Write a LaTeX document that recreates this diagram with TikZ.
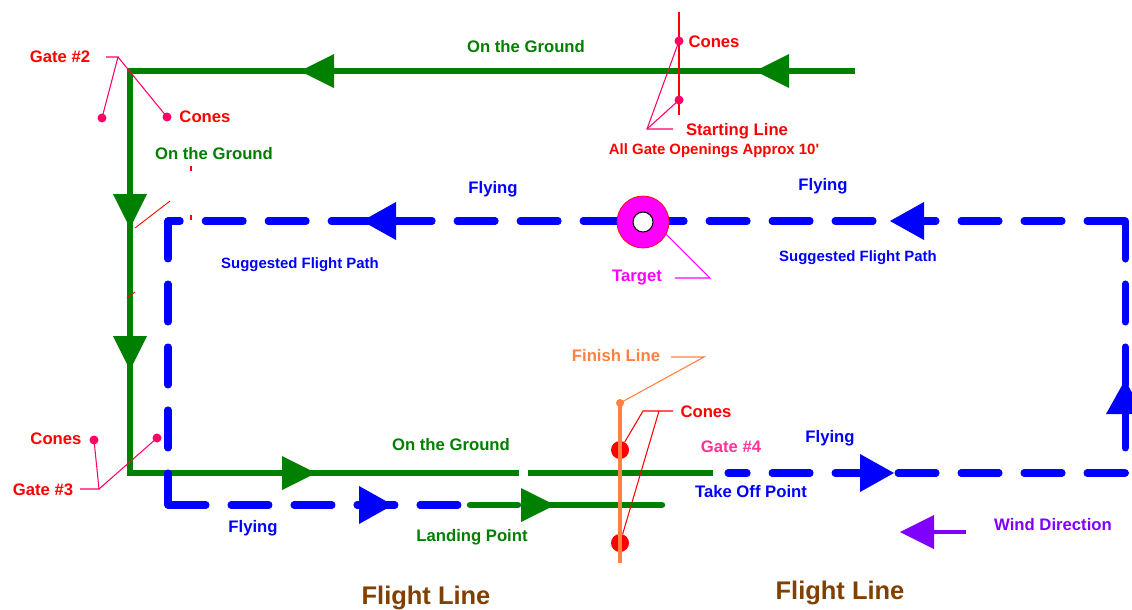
\documentclass[tikz,border=0pt]{standalone}
\usepackage{fontspec}
\setmainfont{Liberation Sans}
\definecolor{gr}{RGB}{0,128,0}
\definecolor{bl}{RGB}{0,0,255}
\definecolor{rd}{RGB}{255,0,0}
\definecolor{pk}{RGB}{255,0,102}
\definecolor{mg}{RGB}{255,0,255}
\definecolor{org}{RGB}{255,128,64}
\definecolor{gfour}{RGB}{255,51,153}
\definecolor{pur}{RGB}{128,0,255}
\definecolor{brn}{RGB}{128,64,0}
\begin{document}
\begin{tikzpicture}[x=0.02cm,y=-0.02cm,
  lab/.style={font=\bfseries\fontsize{9.5}{11}\selectfont, inner sep=0pt},
  small/.style={font=\bfseries\fontsize{8.5}{10}\selectfont, inner sep=0pt},
  big/.style={font=\bfseries\fontsize{14.5}{17}\selectfont, inner sep=0pt},
  ground/.style={gr, line width=3.7pt},
  fly/.style={bl, line width=4pt, line cap=round, dash pattern=on 0.76cm off 0.5cm},
  leader/.style={pk, line width=0.6pt},
  cone/.style={circle, fill=pk, inner sep=0pt, minimum size=0.18cm},
  bigcone/.style={circle, fill=rd, inner sep=0pt, minimum size=0.36cm},
  tri/.pic={\fill (0,0) -- (-34,17) -- (-34,-17) -- cycle;},
  btri/.pic={\fill (0,0) -- (-34,19) -- (-34,-19) -- cycle;},
]
\path[use as bounding box, fill=white] (0,0) rectangle (1132,609);

% ---------- ground path (green) ----------
\coordinate (gTR) at (855,71);
\coordinate (gTL) at (130,71);
\coordinate (gBL) at (130,473);
\coordinate (gGapL) at (519,473);
\coordinate (gGapR) at (528,473);
\coordinate (gBR) at (713,473);
\draw[ground] (gTR) -- (gTL) -- (gBL) -- (gGapL);
\draw[ground] (gGapR) -- (gBR);
\coordinate (lA) at (470,505);
\coordinate (lB) at (518,505);
\coordinate (lC) at (528,505);
\coordinate (lD) at (662,505);
\draw[ground, line cap=round] (lA) -- (lB);
\draw[ground, line cap=round] (lC) -- (lD);

% ---------- flight path (blue dashed) ----------
\coordinate (fTL) at (168,221);
\coordinate (fTR) at (1125,221);
\coordinate (fBR) at (1125,473);
\coordinate (fBRend) at (728,473);
\coordinate (fBL) at (168,505);
\coordinate (fBLend) at (460,505);
\draw[fly] (fTR) -- (fTL);
\draw[fly] (fTR) -- (fBR);
\draw[fly] (fBR) -- (fBRend);
\draw[fly] (fTL) -- (fBL);
\draw[fly] (fBL) -- (fBLend);

% ---------- arrowheads ----------
\pic[gr, rotate=180] at (300,71) {tri};
\pic[gr, rotate=180] at (755,71) {tri};
\pic[gr, rotate=-90] at (130,228) {tri};
\pic[gr, rotate=-90] at (130,370) {tri};
\pic[gr] at (316,473) {tri};
\pic[gr] at (555,505) {tri};
\pic[bl, rotate=180] at (362,221) {btri};
\pic[bl, rotate=180] at (890,221) {btri};
\pic[bl] at (894,473) {btri};
\pic[bl, rotate=90] at (1125,380) {btri};
\pic[bl] at (393,505) {btri};

% ---------- wind ----------
\coordinate (wA) at (966,532);
\coordinate (wB) at (930,532);
\draw[pur, line width=2pt] (wA) -- (wB);
\pic[pur, rotate=180] at (900,532) {tri};
\node[lab, pur] (wind) at (1053,525) {Wind Direction};

% ---------- target ----------
\node[circle, fill=mg, draw=rd, line width=0.4pt, minimum size=1.04cm, inner sep=0pt] (tgt) at (643,222) {};
\node[circle, fill=white, draw=black, line width=0.6pt, minimum size=0.4cm, inner sep=0pt] (bull) at (643,222) {};
\node[lab, mg] (tgtlab) at (637,278) {Target};
\coordinate (tk1) at (675,278);
\coordinate (tk2) at (710,278);
\draw[mg, line width=0.6pt] (tk1) -- (tk2) -- (tgt.-28);

% ---------- starting line ----------
\coordinate (sl1) at (679,12);
\coordinate (sl2) at (679,115);
\draw[rd, line width=1pt] (sl1) -- (sl2);
\node[cone] (sc1) at (679,41) {};
\node[cone] (sc2) at (679,100) {};
\node[lab, rd] (sclab) at (714,42) {Cones};
\coordinate (slk) at (647,129);
\coordinate (slh) at (673,129);
\draw[leader] (slh) -- (slk) -- (sc1.center);
\draw[leader] (slk) -- (sc2.center);
\node[lab, rd] (sline) at (737,131) {Starting Line};
\node[small, rd] (gateop) at (714,151) {All Gate Openings Approx 10\textquotesingle};

% ---------- gate 2 ----------
\node[lab, rd] (g2) at (60,57) {Gate \#2};
\node[cone] (c2a) at (102,118) {};
\node[cone] (c2b) at (167,117) {};
\node[lab, rd] (c2lab) at (205,117) {Cones};
\coordinate (g2h) at (106,57);
\coordinate (g2k) at (118,57);
\draw[leader] (g2h) -- (g2k) -- (c2a.center);
\draw[leader] (g2k) -- (c2b.center);

% ---------- gate 3 ----------
\node[lab, rd] (g3) at (43,490) {Gate \#3};
\node[cone] (c3a) at (94,440) {};
\node[cone] (c3b) at (157,438) {};
\node[lab, rd] (c3lab) at (56,439) {Cones};
\coordinate (g3h) at (80,489);
\coordinate (g3k) at (99,489);
\draw[leader] (g3h) -- (g3k) -- (c3a.center);
\draw[leader] (g3k) -- (c3b.center);

% ---------- stray red marks ----------
\coordinate (r1) at (135,228);
\coordinate (r2) at (170,201);
\draw[rd, line width=0.5pt] (r1) -- (r2);
\coordinate (r3) at (191,166);
\coordinate (r4) at (191,171);
\draw[rd, line width=0.6pt] (r3) -- (r4);
\coordinate (r5) at (191,215);
\coordinate (r6) at (191,220);
\draw[rd, line width=0.6pt] (r5) -- (r6);
\coordinate (r7) at (127,298);
\coordinate (r8) at (135,292);
\draw[rd, line width=0.5pt] (r7) -- (r8);

% ---------- finish line ----------
\node[bigcone] (fc1) at (620,450) {};
\node[bigcone] (fc2) at (620,543) {};
\node[circle, fill=org, inner sep=0pt, minimum size=0.16cm] (fdot) at (620,403) {};
\coordinate (fend) at (620,563);
\draw[org, line width=2.4pt] (fdot.center) -- (fend);
\node[lab, org] (finlab) at (616,356) {Finish Line};
\coordinate (fk1) at (671,357);
\coordinate (fk2) at (704,357);
\draw[org, line width=0.6pt] (fk1) -- (fk2) -- (fdot.center);
\node[lab, rd] (fclab) at (706,412) {Cones};
\coordinate (fh1) at (673,411);
\coordinate (fh2) at (643,411);
\coordinate (fh3) at (659,411);
\draw[rd, line width=0.6pt] (fh1) -- (fh2) -- (fc1);
\draw[rd, line width=0.6pt] (fh3) -- (fc2);

% ---------- labels ----------
\node[lab, gr] (og1) at (526,47) {On the Ground};
\node[lab, gr] (og2) at (214,154) {On the Ground};
\node[lab, gr] (og3) at (451,445) {On the Ground};
\node[lab, gr] (land) at (472,537) {Landing Point};
\node[lab, bl] (fly1) at (493,189) {Flying};
\node[lab, bl] (fly2) at (823,186) {Flying};
\node[lab, bl] (fly3) at (830,438) {Flying};
\node[lab, bl] (fly4) at (253,528) {Flying};
\node[lab, bl] (takeoff) at (751,492) {Take Off Point};
\node[small, bl] (sfp1) at (300,265) {Suggested Flight Path};
\node[small, bl] (sfp2) at (858,258) {Suggested Flight Path};
\node[lab, gfour] (g4) at (731,447) {Gate \#4};
\node[big, brn] (fl1) at (426,598) {Flight Line};
\node[big, brn] (fl2) at (840,593) {Flight Line};
\end{tikzpicture}
\end{document}
